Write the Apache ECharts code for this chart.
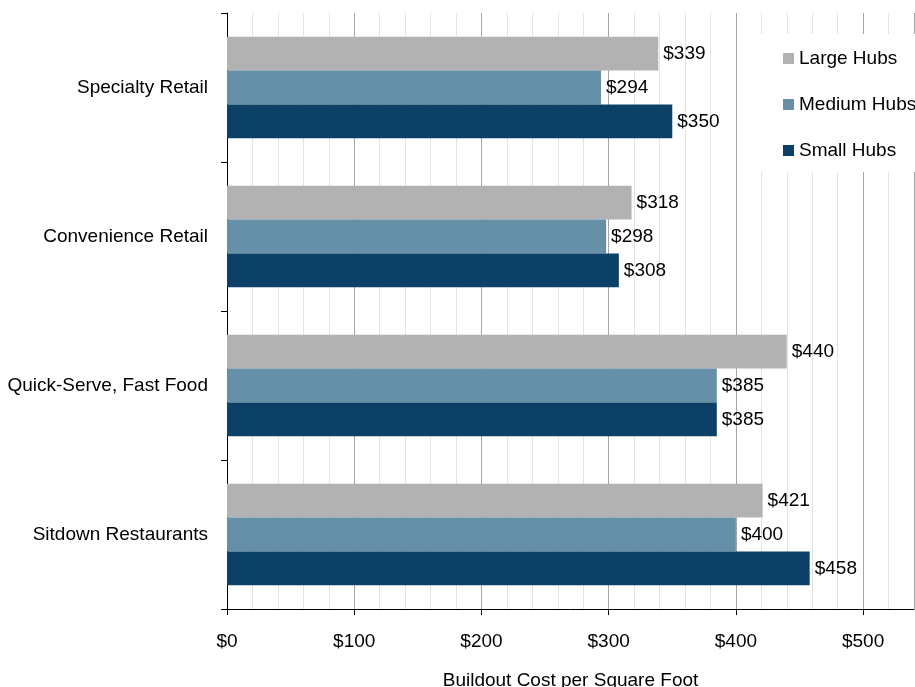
<!DOCTYPE html>
<html>
<head>
<meta charset="utf-8">
<script src="https://cdn.jsdelivr.net/npm/echarts@6/dist/echarts.min.js"></script>
<style>html,body{margin:0;padding:0;background:#fff}#c{width:915px;height:687px}</style>
</head>
<body>
<div id="c"></div>
<script>
const categories = ['Specialty Retail', 'Convenience Retail', 'Quick-Serve, Fast Food', 'Sitdown Restaurants'];
const largeHubs = [339, 318, 440, 421];
const mediumHubs = [294, 298, 385, 400];
const smallHubs = [350, 308, 385, 458];
const xTickLabels = ['$0', '$100', '$200', '$300', '$400', '$500'];

const FONT = 'Liberation Sans, Arial, sans-serif';
const FS = 19;
const chart = echarts.init(document.getElementById('c'), null, {renderer: 'canvas'});
const label = {show: true, position: 'right', distance: 5, color: '#000', fontSize: FS, fontFamily: FONT, formatter: p => '$' + p.value};
function ser(name, data, color) {
  return {name, type: 'bar', data, barGap: '0%', barCategoryGap: '32%', itemStyle: {color}, label, z: 2};
}
chart.setOption({
  animation: false,
  textStyle: {fontFamily: FONT},
  grid: {left: 227, right: 1, top: 13, bottom: 78, containLabel: false, outerBoundsMode: 'none'},
  legend: {
    orient: 'vertical', left: 759, top: 34,
    padding: [14, 30, 11, 24],
    backgroundColor: '#fff',
    itemWidth: 11, itemHeight: 11, itemGap: 25,
    icon: 'rect',
    textStyle: {fontSize: FS, color: '#000', fontFamily: FONT, lineHeight: 21},
    data: ['Large Hubs', 'Medium Hubs', 'Small Hubs'],
    z: 10
  },
  xAxis: {
    type: 'value', min: 0, max: 540, interval: 100,
    name: 'Buildout Cost per Square Foot', nameLocation: 'middle', nameGap: 62,
    nameTextStyle: {fontSize: FS, color: '#000', fontFamily: FONT},
    axisLine: {show: true, lineStyle: {color: '#000', width: 1}},
    axisTick: {show: true, length: 6, lineStyle: {color: '#000'}},
    axisLabel: {fontSize: FS, color: '#000', margin: 23, fontFamily: FONT, formatter: (v) => xTickLabels[Math.round(v / 100)] || '', showMaxLabel: false},
    splitLine: {show: true, lineStyle: {color: '#a6a6a6', width: 1}},
    minorTick: {show: false, splitNumber: 5},
    minorSplitLine: {show: true, lineStyle: {color: '#e3e3e3', width: 1}}
  },
  yAxis: {
    type: 'category', data: categories, inverse: true,
    axisLine: {show: true, lineStyle: {color: '#000', width: 1}},
    axisTick: {show: true, length: 6, inside: false, lineStyle: {color: '#000'}},
    axisLabel: {fontSize: FS, color: '#000', margin: 19, fontFamily: FONT},
    splitLine: {show: false}
  },
  series: [
    ser('Large Hubs', largeHubs, '#b2b2b2'),
    ser('Medium Hubs', mediumHubs, '#6690a7'),
    ser('Small Hubs', smallHubs, '#0c4067')
  ]
});
</script>
</body>
</html>
